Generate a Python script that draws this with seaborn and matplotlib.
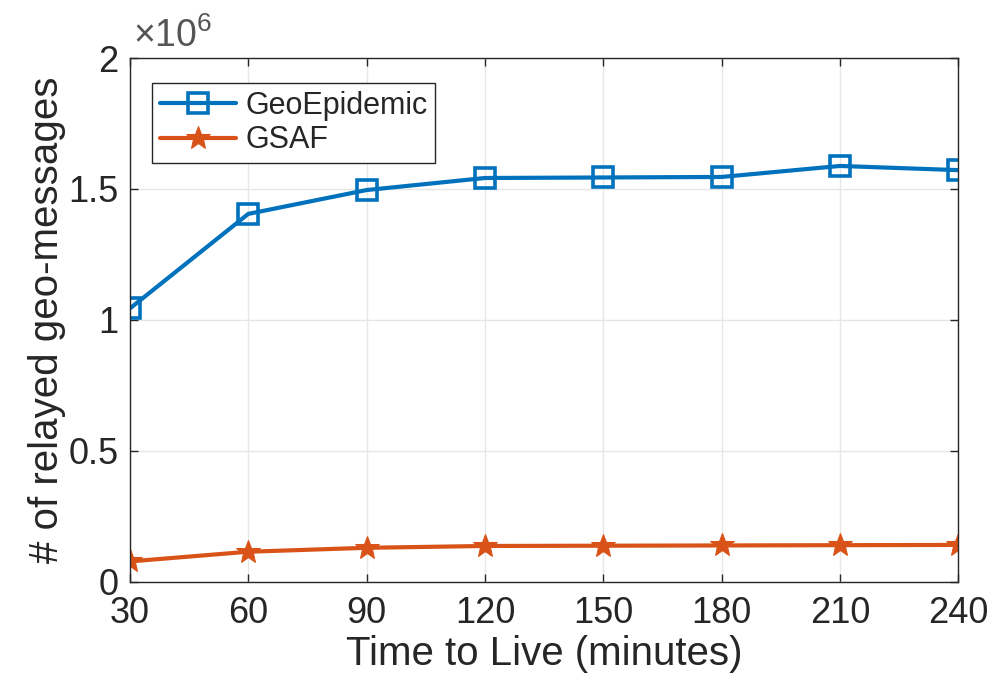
import numpy as np
import pandas as pd
import matplotlib
matplotlib.use("Agg")
import matplotlib.pyplot as plt
import seaborn as sns
from matplotlib.ticker import FuncFormatter

ttl = [30, 60, 90, 120, 150, 180, 210, 240]
geo_epidemic = [1.044e6, 1.405e6, 1.496e6, 1.542e6, 1.544e6, 1.546e6, 1.588e6, 1.572e6]
gsaf = [0.078e6, 0.115e6, 0.130e6, 0.137e6, 0.138e6, 0.139e6, 0.140e6, 0.141e6]
series_names = ["GeoEpidemic", "GSAF"]
xtick_labels = ["30", "60", "90", "120", "150", "180", "210", "240"]
ytick_vals = [0, 0.5e6, 1.0e6, 1.5e6, 2.0e6]

df = pd.DataFrame({
    "ttl": ttl * 2,
    "value": geo_epidemic + gsaf,
    "series": [series_names[0]] * len(ttl) + [series_names[1]] * len(ttl),
})

sns.set_theme(style="whitegrid")
plt.rcParams["font.family"] = ["Liberation Sans", "DejaVu Sans"]
plt.rcParams["mathtext.fontset"] = "custom"
plt.rcParams["mathtext.rm"] = "Liberation Sans"
plt.rcParams["mathtext.it"] = "Liberation Sans"

fig = plt.figure(figsize=(9.92, 6.75), dpi=100)
ax = fig.add_axes([0.131, 0.138, 0.835, 0.776])

palette = {"GeoEpidemic": "#0072BD", "GSAF": "#D95319"}
markers = {"GeoEpidemic": "s", "GSAF": "*"}
sns.lineplot(data=df, x="ttl", y="value", hue="series", style="series",
             palette=palette, markers=markers, dashes=False, linewidth=3.0,
             ax=ax, legend=True)

for line in ax.get_lines():
    c = line.get_color()
    if line.get_marker() == "s":
        line.set_markerfacecolor("none")
        line.set_markeredgecolor(c)
        line.set_markeredgewidth(2.6)
        line.set_markersize(14)
    elif line.get_marker() == "*":
        line.set_markerfacecolor(c)
        line.set_markeredgecolor(c)
        line.set_markersize(18)

ax.set_xlim(30, 240)
ax.set_ylim(0, 2e6)
ax.set_xticks(ttl)
ax.set_xticklabels(xtick_labels)
ax.set_yticks(ytick_vals)
ax.yaxis.set_major_formatter(FuncFormatter(lambda v, p: f"{v/1e6:g}"))

ax.grid(True, color="#e6e6e6", linewidth=1.0)
for sp in ax.spines.values():
    sp.set_color("#262626")
    sp.set_linewidth(1.0)
    sp.set_visible(True)
ax.tick_params(axis="both", direction="in", length=6, width=1.0, color="#262626",
               labelsize=26, labelcolor="#262626", top=True, right=True,
               bottom=True, left=True)
ax.tick_params(axis="x", pad=10)
ax.tick_params(axis="y", pad=8)

ax.set_xlabel("Time to Live (minutes)", fontsize=29, color="#262626", labelpad=3)
ax.set_ylabel("# of relayed geo-messages", fontsize=29, color="#262626", labelpad=2)
ax.text(0.004, 1.005, r"$\times$10$^{6}$", transform=ax.transAxes, fontsize=27,
        color="#555555", ha="left", va="bottom")

h, l = ax.get_legend_handles_labels()
for hh in h:
    if hh.get_marker() == "s":
        hh.set_markerfacecolor("none"); hh.set_markersize(14); hh.set_markeredgewidth(2.6)
    elif hh.get_marker() == "*":
        hh.set_markersize(18)
leg = ax.legend(h, l, loc="upper left", bbox_to_anchor=(0.027, 0.952), fontsize=22,
                frameon=True, fancybox=False, handlelength=2.5, borderpad=0.25,
                labelspacing=0.15, handletextpad=0.3, borderaxespad=0.0)
leg.get_frame().set_edgecolor("#262626")
leg.get_frame().set_linewidth(1.0)
leg.get_frame().set_alpha(1)

fig.savefig("out.png", dpi=100, facecolor="white")
